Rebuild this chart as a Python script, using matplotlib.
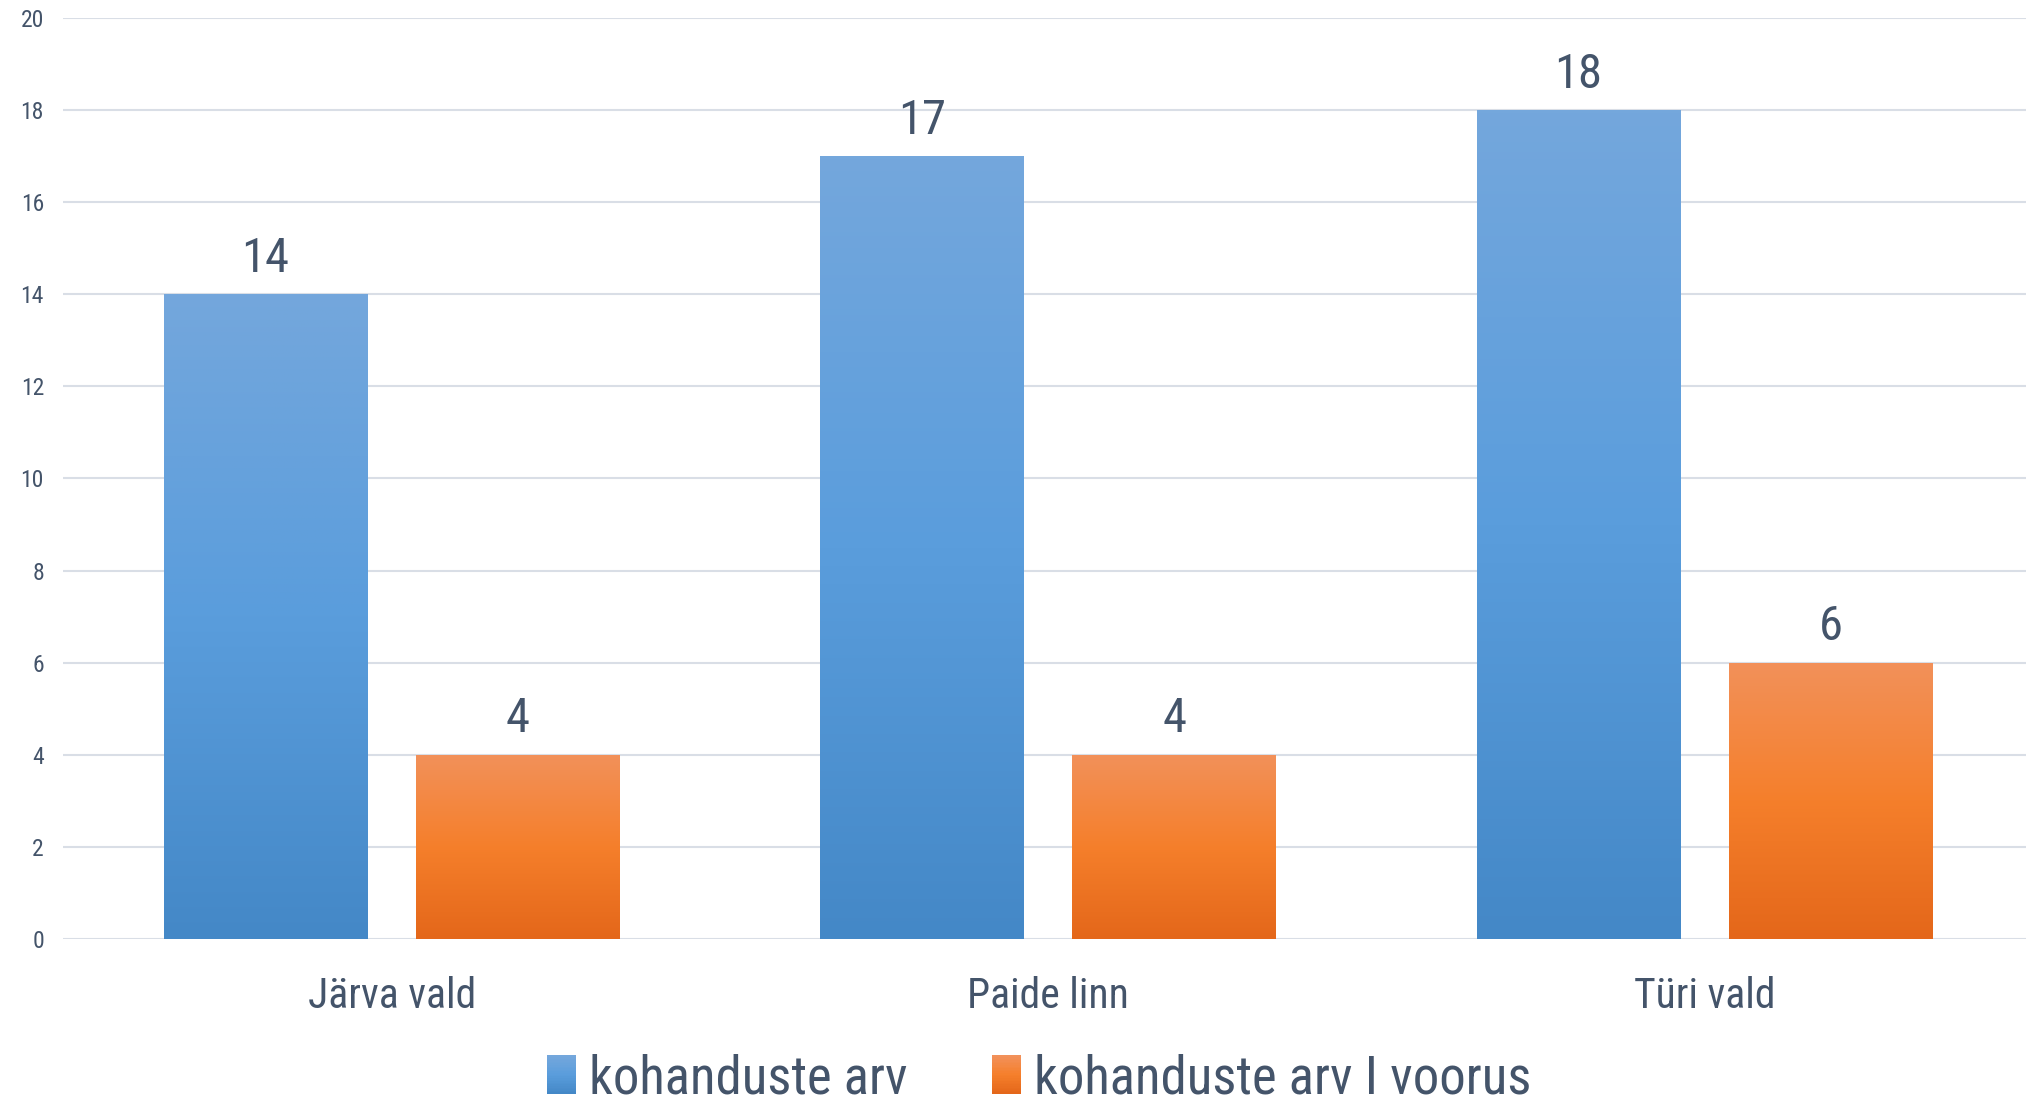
import matplotlib
matplotlib.use("Agg")
import matplotlib.pyplot as plt
import numpy as np
from matplotlib.colors import LinearSegmentedColormap
from matplotlib.patches import Patch, Rectangle
from matplotlib.legend_handler import HandlerBase

categories = ["Järva vald", "Paide linn", "Türi vald"]
series_names = ["kohanduste arv", "kohanduste arv I voorus"]
kohanduste_arv = [14, 17, 18]
kohanduste_arv_voorus = [4, 4, 6]
y_ticks = [0, 2, 4, 6, 8, 10, 12, 14, 16, 18, 20]

plt.rcParams["font.family"] = ["Roboto Condensed", "Liberation Sans Narrow", "Roboto", "DejaVu Sans"]
text_color = "#44546A"
grid_color = "#D9DEE6"

# gradient stops: top, middle, bottom
blue_stops = ["#74A7DC", "#5A9DDC", "#4488C7"]
orange_stops = ["#F2915A", "#F57F2B", "#E4671A"]
blue_cmap = LinearSegmentedColormap.from_list("b", blue_stops[::-1])
orange_cmap = LinearSegmentedColormap.from_list("o", orange_stops[::-1])

fig = plt.figure(figsize=(20.26, 11.04), dpi=100)
ax = fig.add_axes([0.0313, 0.1495, 0.972, 0.8342])

x = np.arange(len(categories))
width = 0.31
offset = 0.192


def gradient_bars(xpos, values, cmap):
    bars = ax.bar(xpos, values, width, facecolor="none", edgecolor="none", zorder=3)
    grad = np.linspace(0, 1, 256).reshape(-1, 1)
    for b in bars:
        x0, y0 = b.get_x(), b.get_y()
        w, h = b.get_width(), b.get_height()
        im = ax.imshow(grad, cmap=cmap, origin="lower", aspect="auto",
                       extent=[x0, x0 + w, y0, y0 + h], zorder=3)
        im.set_clip_path(b)
        ax.annotate(str(int(h)), (x0 + w / 2, h), xytext=(0, 9),
                    textcoords="offset points", ha="center", va="bottom",
                    fontsize=35, color=text_color)
    return bars


gradient_bars(x - offset, kohanduste_arv, blue_cmap)
gradient_bars(x + offset, kohanduste_arv_voorus, orange_cmap)

ax.set_xlim(-0.5, len(categories) - 0.5)
ax.set_ylim(0, 20)
ax.set_yticks(y_ticks)
ax.set_xticks(x)
ax.set_xticklabels(categories, fontsize=30, color=text_color)
ax.tick_params(axis="y", labelsize=17, labelcolor=text_color, length=0, pad=14)
ax.tick_params(axis="x", length=0, pad=27)
ax.yaxis.grid(True, color=grid_color, linewidth=1.5, zorder=0)
ax.set_axisbelow(True)
for s in ax.spines.values():
    s.set_visible(False)


class GradientHandler(HandlerBase):
    def __init__(self, cmap):
        super().__init__()
        self.cmap = cmap

    def create_artists(self, legend, orig_handle, xdescent, ydescent,
                       width, height, fontsize, trans):
        n = 24
        arts = []
        for i in range(n):
            arts.append(Rectangle((-xdescent, -ydescent + height * i / n), width,
                                  height / n + 0.3, facecolor=self.cmap(i / (n - 1)),
                                  edgecolor="none", transform=trans))
        return arts


h1 = Patch(facecolor=blue_stops[1])
h2 = Patch(facecolor=orange_stops[1])
fig.legend([h1, h2], series_names, loc="center", bbox_to_anchor=(0.513, 0.023),
           ncol=2, frameon=False, fontsize=38, labelcolor=text_color,
           handlelength=0.55, handleheight=0.75, handletextpad=0.25, columnspacing=1.6,
           handler_map={h1: GradientHandler(blue_cmap), h2: GradientHandler(orange_cmap)})

fig.savefig("out.png", dpi=100)
